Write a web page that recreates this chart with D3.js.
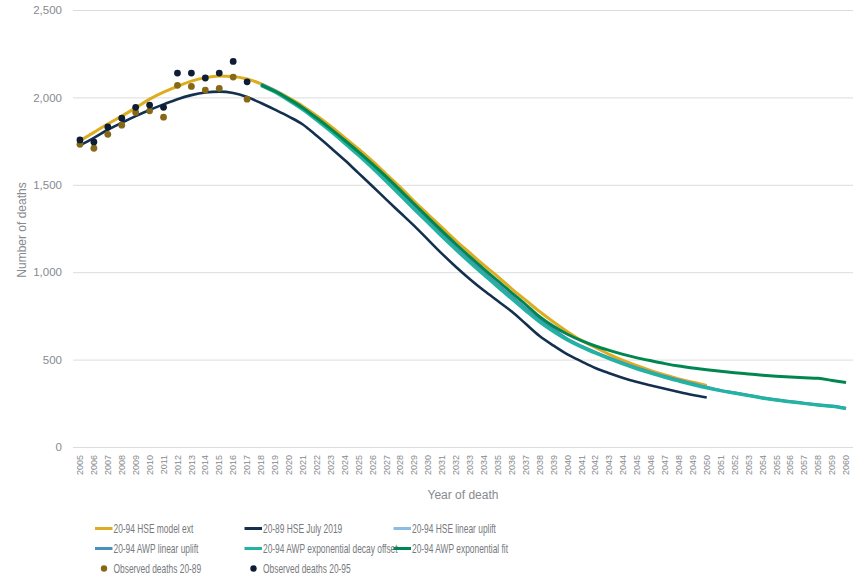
<!DOCTYPE html>
<html>
<head>
<meta charset="utf-8">
<script src="https://cdn.jsdelivr.net/npm/d3@7"></script>
<style>
  html, body { margin: 0; padding: 0; background: #ffffff; }
  svg { display: block; font-family: "Liberation Sans", Arial, sans-serif; }
</style>
</head>
<body>
<svg id="chart" width="865" height="580"></svg>
<script>
// Category axis: year of death
const years = [2005,2006,2007,2008,2009,2010,2011,2012,2013,2014,2015,2016,2017,2018,2019,2020,
  2021,2022,2023,2024,2025,2026,2027,2028,2029,2030,2031,2032,2033,2034,2035,2036,2037,2038,
  2039,2040,2041,2042,2043,2044,2045,2046,2047,2048,2049,2050,2051,2052,2053,2054,2055,2056,
  2057,2058,2059,2060];
const yTicks = [0, 500, 1000, 1500, 2000, 2500];

// Projection series (deaths per year)
const hseModelExtStart = 2005;
const hseModelExt = [1752,1800,1848,1893,1940,1990,2030,2063,2093,2113,
  2123,2120,2105,2078,2040,1997,1950,1895,1835,1770,
  1705,1635,1560,1485,1405,1330,1255,1180,1110,1040,
  975,905,840,775,715,660,610,570,530,495,
  465,437,412,390,370,352];

const hseJuly2019Start = 2005;
const hseJuly2019 = [1725,1768,1815,1855,1893,1928,1960,1990,2013,2028,
  2033,2025,2002,1968,1930,1890,1845,1780,1712,1642,
  1567,1492,1415,1340,1265,1185,1105,1030,960,895,
  835,775,705,635,580,530,490,452,422,395,
  372,352,333,315,298,283];

const hseLinearUpliftStart = 2018;
const hseLinearUplift = [2074,2036,1988,1937,1877,1814,1747,1678,1605,1528,
  1450,1370,1292,1213,1138,1065,995,925,858,790,
  725,670,616,576,541,509,479,451,426,402,
  381,361,342];

const awpLinearUpliftStart = 2018;
const awpLinearUplift = [2076,2038,1991,1940,1880,1817,1750,1680,1607,1530,
  1452,1372,1294,1215,1140,1067,997,927,860,792,
  727,672,617,577,542,510,480,452,427,403,
  382,362,342,324,310,296,282,270,260,251,
  242,234,222];

const awpExpDecayOffsetStart = 2018;
const awpExpDecayOffset = [2068,2030,1982,1930,1870,1806,1738,1668,1595,1518,
  1440,1360,1282,1203,1128,1055,985,915,848,780,
  715,660,612,572,537,505,475,447,422,398,
  377,357,338,322,308,294,280,268,258,249,
  240,232,220];

const awpExpFitStart = 2018;
const awpExpFit = [2072,2035,1990,1940,1882,1820,1755,1688,1618,1545,
  1468,1390,1312,1235,1160,1088,1018,950,882,815,
  745,690,645,608,578,553,530,510,493,477,
  463,452,442,433,425,418,411,405,400,396,
  393,381,369];

// Observed deaths
const observedStart = 2005;
const observed2089 = [1732,1709,1789,1841,1914,1923,1887,2069,2063,2042,2052,2116,1990];
const observed2095 = [1757,1745,1831,1881,1943,1956,1943,2139,2139,2111,2139,2206,2089];

const lineSeries = [
  { name: "20-94 HSE model ext", start: hseModelExtStart, values: hseModelExt, color: "#DDAD1F", width: 3 },
  { name: "20-89 HSE July 2019", start: hseJuly2019Start, values: hseJuly2019, color: "#13304F", width: 2.6 },
  { name: "20-94 HSE linear uplift", start: hseLinearUpliftStart, values: hseLinearUplift, color: "#8DBCE3", width: 3 },
  { name: "20-94 AWP linear uplift", start: awpLinearUpliftStart, values: awpLinearUplift, color: "#4A90BC", width: 3 },
  { name: "20-94 AWP exponential decay offset", start: awpExpDecayOffsetStart, values: awpExpDecayOffset, color: "#22B3A2", width: 3.2 },
  { name: "20-94 AWP exponential fit", start: awpExpFitStart, values: awpExpFit, color: "#00874F", width: 3 }
];
const dotSeries = [
  { name: "Observed deaths 20-89", start: observedStart, values: observed2089, color: "#876817" },
  { name: "Observed deaths 20-95", start: observedStart, values: observed2095, color: "#0E1C35" }
];

const svg = d3.select("#chart");
const plot = { left: 73, right: 853, top: 10, bottom: 447 };

const x = d3.scaleBand().domain(years).range([plot.left, plot.right]);
const cx = yr => x(yr) + x.bandwidth() / 2;
const y = d3.scaleLinear().domain([0, 2500]).range([plot.bottom, plot.top]);

const textGrey = "#878a8e";

// Horizontal gridlines
svg.append("g")
  .attr("transform", `translate(${plot.left},0)`)
  .call(d3.axisLeft(y).tickValues(yTicks).tickSize(-(plot.right - plot.left)).tickFormat(""))
  .call(g => g.select(".domain").remove())
  .call(g => g.selectAll("line").attr("stroke", "#dcdcdc").attr("stroke-width", 1));

// Y tick labels
svg.append("g")
  .attr("transform", `translate(${plot.left},0)`)
  .call(d3.axisLeft(y).tickValues(yTicks).tickSize(0).tickPadding(11).tickFormat(d3.format(",")))
  .call(g => g.select(".domain").remove())
  .call(g => g.selectAll("text").attr("fill", textGrey).style("font-size", "11.5px"));

// X tick labels, rotated
svg.append("g")
  .attr("transform", `translate(0,${plot.bottom})`)
  .call(d3.axisBottom(x).tickSize(0).tickFormat(d3.format("d")))
  .call(g => g.select(".domain").remove())
  .call(g => g.selectAll("text")
    .attr("fill", textGrey)
    .style("font-size", "9px")
    .attr("transform", "rotate(-90)")
    .attr("text-anchor", "end")
    .attr("x", -8)
    .attr("y", 0)
    .attr("dy", "0.35em"));

// Axis titles
svg.append("text")
  .attr("x", 463).attr("y", 499)
  .attr("text-anchor", "middle")
  .attr("fill", textGrey)
  .style("font-size", "12px")
  .text("Year of death");

svg.append("text")
  .attr("transform", "translate(26,230) rotate(-90)")
  .attr("text-anchor", "middle")
  .attr("fill", textGrey)
  .style("font-size", "12px")
  .text("Number of deaths");

// Projection lines
const line = d3.line()
  .x(d => cx(d.year))
  .y(d => y(d.value))
  .curve(d3.curveMonotoneX);

const toPoints = s => s.values.map((v, i) => ({ year: s.start + i, value: v }));

svg.append("g").selectAll("path")
  .data(lineSeries)
  .join("path")
  .attr("d", s => line(toPoints(s)))
  .attr("fill", "none")
  .attr("stroke", s => s.color)
  .attr("stroke-width", s => s.width)
  .attr("stroke-linejoin", "round")
  .attr("stroke-linecap", "butt");

// Observed points
dotSeries.forEach(s => {
  svg.append("g").selectAll("circle")
    .data(toPoints(s))
    .join("circle")
    .attr("cx", d => cx(d.year))
    .attr("cy", d => y(d.value))
    .attr("r", 3.4)
    .attr("fill", s.color);
});

// Legend (condensed lettering via horizontal squeeze)
const colX = [95, 244.5, 393.5];
const rowY = [528.5, 548.5, 568.5];
const legendItems = lineSeries.map((s, i) => ({ ...s, type: "line", col: i % 3, row: Math.floor(i / 3) }))
  .concat(dotSeries.map((s, i) => ({ ...s, type: "dot", col: i, row: 2 })));

const lg = svg.append("g");
legendItems.forEach(it => {
  const x0 = colX[it.col], y0 = rowY[it.row];
  if (it.type === "line") {
    lg.append("line")
      .attr("x1", x0).attr("x2", x0 + 17.5)
      .attr("y1", y0).attr("y2", y0)
      .attr("stroke", it.color).attr("stroke-width", 3);
  } else {
    lg.append("circle")
      .attr("cx", x0 + 9).attr("cy", y0).attr("r", 3.2)
      .attr("fill", it.color);
  }
  lg.append("text")
    .attr("transform", `translate(${x0 + 18.5},${y0}) scale(0.7,1)`)
    .attr("dy", "0.35em")
    .attr("fill", "#76797d")
    .style("font-size", "12px")
    .text(it.name);
});
</script>
</body>
</html>
